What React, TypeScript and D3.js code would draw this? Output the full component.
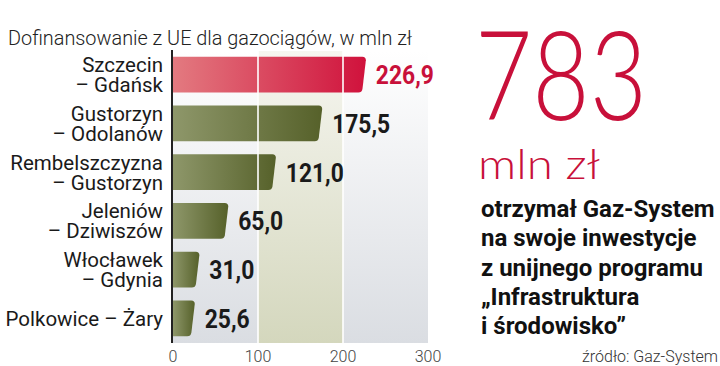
import React from 'react';
import * as d3 from 'd3';

const width = 720;
const height = 366;
const red = '#c8103a';

// data
const routes = [
  ['Szczecin', '– Gdańsk'],
  ['Gustorzyn', '– Odolanów'],
  ['Rembelszczyzna', '– Gustorzyn'],
  ['Jeleniów', '– Dziwiszów'],
  ['Włocławek', '– Gdynia'],
  ['Polkowice – Żary'],
];
const amounts = [226.9, 175.5, 121.0, 65.0, 31.0, 25.6];
const xTicks = [0, 100, 200, 300];
const title = 'Dofinansowanie z UE dla gazociągów, w mln zł';
const total = '783';
const totalUnit = 'mln zł';
const note = ['otrzymał Gaz-System', 'na swoje inwestycje', 'z unijnego programu', '„Infrastruktura', 'i środowisko”'];
const source = 'źródło: Gaz-System';

const xScale = d3.scaleLinear().domain([0, 300]).range([173, 428]);
const yScale = d3.scaleBand<number>().domain(d3.range(amounts.length)).range([51, 342]).paddingInner(0.27).paddingOuter(0.12);

const fmt = (v: number) => d3.format('.1f')(v).replace('.', ',');

// bar with rounded, slightly slanted right end
function barPath(x0: number, x1: number, y0: number, y1: number) {
  const r = 3.5;
  const s = 4;
  const p = d3.path();
  p.moveTo(x0, y0);
  p.lineTo(x1 - r, y0);
  p.quadraticCurveTo(x1, y0, x1, y0 + r);
  p.lineTo(x1 - s + 0.6, y1 - r);
  p.quadraticCurveTo(x1 - s, y1, x1 - s - r, y1);
  p.lineTo(x0, y1);
  p.closePath();
  return p.toString();
}

export default function App() {
  const labelFont = 'Roboto, "Liberation Sans", sans-serif';
  const numFont = 'Roboto, "Liberation Sans", sans-serif';
  const bigFont = 'Lato, "Noto Sans", sans-serif';
  const top = 51, bottom = 343;
  return (
    <div style={{ position: 'fixed', left: 0, top: 0 }}>
      <svg width={width} height={height} style={{ display: 'block', background: '#fff' }}>
        <defs>
          <linearGradient id="bg" x1="0" y1="0" x2="0" y2="1">
            <stop offset="0" stopColor="#ffffff" />
            <stop offset="1" stopColor="#dadde2" />
          </linearGradient>
          <linearGradient id="band" x1="0" y1="0" x2="0" y2="1">
            <stop offset="0" stopColor="#f6f6f0" />
            <stop offset="1" stopColor="#d4d7bd" />
          </linearGradient>
          <linearGradient id="green" x1="0" y1="0" x2="1" y2="0">
            <stop offset="0" stopColor="#8e976a" />
            <stop offset="1" stopColor="#56612a" />
          </linearGradient>
          <linearGradient id="redbar" x1="0" y1="0" x2="1" y2="0">
            <stop offset="0" stopColor="#e37a80" />
            <stop offset="1" stopColor="#d0123c" />
          </linearGradient>
        </defs>

        <text x={8} y={45} fontFamily={labelFont} fontWeight={300} fontSize={20.5} fill="#222"
          textLength={404} lengthAdjust="spacingAndGlyphs">{title}</text>

        <rect x={xScale(0)} y={top} width={xScale(300) - xScale(0)} height={bottom - top} fill="url(#bg)" />
        <rect x={xScale(100)} y={top} width={xScale(200) - xScale(100)} height={bottom - top} fill="url(#band)" />

        {amounts.map((v, i) => {
          const y0 = yScale(i)!;
          const y1 = y0 + yScale.bandwidth();
          return (
            <path key={i} d={barPath(xScale(0), xScale(v), y0, y1)} fill={i === 0 ? 'url(#redbar)' : 'url(#green)'} />
          );
        })}

        {[100, 200].map(t => (
          <line key={t} x1={xScale(t)} x2={xScale(t)} y1={top} y2={bottom} stroke="#fff" strokeWidth={1.6} />
        ))}
        <line x1={172} x2={172} y1={50} y2={bottom} stroke="#222" strokeWidth={2} />

        {amounts.map((v, i) => {
          const c = yScale(i)! + yScale.bandwidth() / 2;
          const s = fmt(v);
          return (
            <text key={i} x={xScale(v) + 10} y={c + 9.5} fontFamily={numFont} fontWeight={700} fontSize={26}
              fill={i === 0 ? red : '#1a1a1a'} textLength={s.length === 5 ? 58 : 45} lengthAdjust="spacingAndGlyphs">{s}</text>
          );
        })}

        {routes.map((lines, i) => {
          const c = yScale(i)! + yScale.bandwidth() / 2;
          const first = lines.length === 2 ? c - 2.5 : c + 7.5;
          return (
            <text key={i} x={163} textAnchor="end" fontFamily={labelFont} fontSize={20.5} fill="#1a1a1a">
              {lines.map((l, j) => (
                <tspan key={j} x={163} y={first + j * 20}>{l}</tspan>
              ))}
            </text>
          );
        })}

        {xTicks.map(t => (
          <text key={t} x={xScale(t)} y={362} textAnchor="middle" fontFamily={labelFont} fontWeight={300} fontSize={16} fill="#444">{t}</text>
        ))}

        <text x={475} y={120} fontFamily={bigFont} fontWeight={300} fontSize={124}
          fill={red} textLength={172} lengthAdjust="spacingAndGlyphs">{total}</text>
        <text x={478} y={179} fontFamily={bigFont} fontWeight={300} fontSize={42}
          fill={red} textLength={122} lengthAdjust="spacingAndGlyphs">{totalUnit}</text>

        {note.map((l, i) => (
          <text key={i} x={481} y={217 + i * 29.3} fontFamily={labelFont} fontWeight={700} fontSize={24} fill="#111">{l}</text>
        ))}
        <text x={718} y={362} textAnchor="end" fontFamily={labelFont} fontWeight={300} fontSize={16} fill="#333">{source}</text>
      </svg>
    </div>
  );
}
